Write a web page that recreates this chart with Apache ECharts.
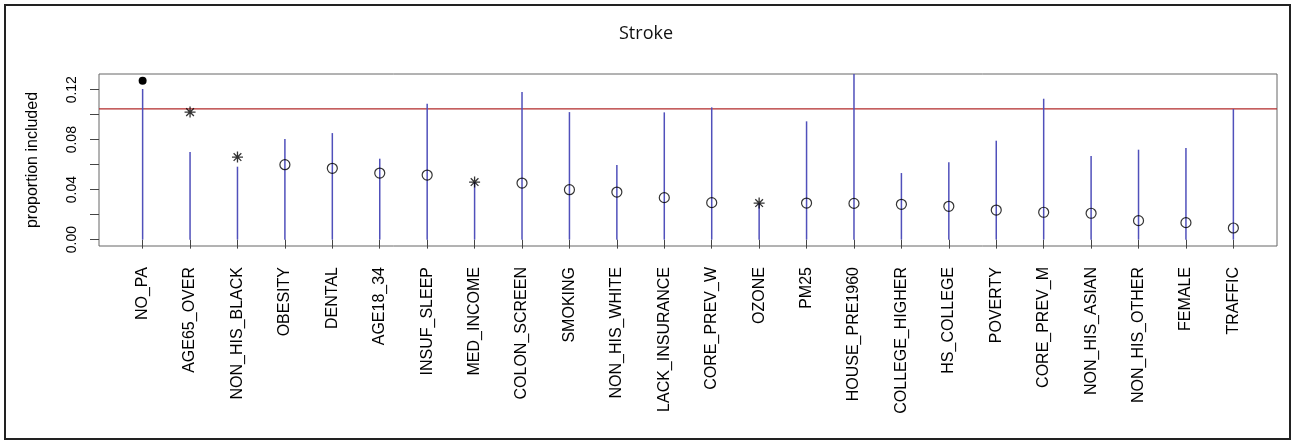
<!DOCTYPE html>
<html>
<head>
<meta charset="utf-8">
<script src="https://cdn.jsdelivr.net/npm/echarts@6/dist/echarts.min.js"></script>
<style>
html,body{margin:0;padding:0;background:#fff;}
#main{width:1292px;height:441px;}
</style>
</head>
<body>
<div id="main"></div>
<script>
var categories = ['NO_PA','AGE65_OVER','NON_HIS_BLACK','OBESITY','DENTAL','AGE18_34','INSUF_SLEEP','MED_INCOME','COLON_SCREEN','SMOKING','NON_HIS_WHITE','LACK_INSURANCE','CORE_PREV_W','OZONE','PM25','HOUSE_PRE1960','COLLEGE_HIGHER','HS_COLLEGE','POVERTY','CORE_PREV_M','NON_HIS_ASIAN','NON_HIS_OTHER','FEMALE','TRAFFIC'];
var upperValues = [0.1206,0.0702,0.0584,0.0805,0.0853,0.0648,0.1088,0.0461,0.1181,0.1021,0.0597,0.1019,0.1059,0.0293,0.0947,0.1350,0.0533,0.0619,0.0792,0.1128,0.0669,0.0720,0.0733,0.1046];
var pointValues = [0.1272,0.1021,0.0661,0.0600,0.0571,0.0533,0.0517,0.0461,0.0453,0.0400,0.0381,0.0336,0.0296,0.0293,0.0293,0.0290,0.0283,0.0267,0.0237,0.0219,0.0211,0.0152,0.0136,0.0093];
var markerTypes = ['filled','star','star','open','open','open','open','star','open','open','open','open','open','star','open','open','open','open','open','open','open','open','open','open'];
var thresholdValue = 0.1046;
var yTickValues = [0,0.02,0.04,0.06,0.08,0.10,0.12];
var yLabelValues = [0,0.04,0.08,0.12];
var title = 'Stroke';
var yTitle = 'proportion included';

var xMin = 0.08, xMax = 24.92;
var positions = categories.map(function(c,i){return i+1;});
var lineData = categories.map(function(c,i){return [i+1, upperValues[i]];});
function pts(type){
  var out=[];
  for(var i=0;i<categories.length;i++){ if(markerTypes[i]===type) out.push([i+1, pointValues[i]]); }
  return out;
}
var chart = echarts.init(document.getElementById('main'), null, {renderer:'canvas'});
var axisFont = '"Liberation Sans", Arial, sans-serif';
chart.setOption({
  animation:false,
  backgroundColor:'#fff',
  title:{text:title,left:641,top:20,textAlign:'center',
    textStyle:{fontFamily:'"Open Sans","Noto Sans",sans-serif',fontSize:18,fontWeight:'normal',color:'#111'}},
  graphic:[{type:'rect',shape:{x:5,y:5,width:1285,height:434},style:{fill:'none',stroke:'#222',lineWidth:2},silent:true}],
  grid:{left:99,right:15,top:74,bottom:195,show:true,borderColor:'#666',borderWidth:1,backgroundColor:'transparent'},
  xAxis:{type:'value',min:xMin,max:xMax,
    axisLine:{show:false},splitLine:{show:false},
    axisTick:{show:true,length:9,customValues:positions,lineStyle:{color:'#444'}},
    axisLabel:{customValues:positions,rotate:90,margin:21,fontSize:16,fontFamily:axisFont,color:'#000',
      formatter:function(v){var i=Math.round(v)-1;return categories[i]||'';}}
  },
  yAxis:{type:'value',min:-0.0051,max:0.1326,
    name:yTitle,nameLocation:'middle',nameRotate:90,nameGap:58,
    nameTextStyle:{fontSize:16,fontFamily:axisFont,color:'#000'},
    axisLine:{show:false},splitLine:{show:false},
    axisTick:{show:true,length:9,customValues:yTickValues,lineStyle:{color:'#444'}},
    axisLabel:{customValues:yLabelValues,rotate:90,margin:20,fontSize:14,fontFamily:axisFont,color:'#000',
      formatter:function(v){return v.toFixed(2);}}
  },
  series:[
    {type:'line',data:[[xMin,thresholdValue],[xMax,thresholdValue]],symbol:'none',silent:true,z:1,
      lineStyle:{color:'#b22a2a',width:1.3}},
    {type:'custom',data:lineData,z:2,
      renderItem:function(params,api){
        var x=api.value(0), top=api.value(1);
        var p0=api.coord([x,0]), p1=api.coord([x,top]);
        var cs=params.coordSys;
        var y1=Math.max(p1[1], cs.y);
        return {type:'line',shape:{x1:p0[0],y1:p0[1],x2:p0[0],y2:y1},style:{stroke:'#5050bb',lineWidth:1.5}};
      }
    },
    {type:'scatter',data:pts('open'),symbol:'circle',symbolSize:10,z:5,
      itemStyle:{color:'transparent',borderColor:'#000',borderWidth:1.2}},
    {type:'scatter',data:pts('star'),symbol:'path://M5,0L5,10M0,5L10,5M1.5,1.5L8.5,8.5M8.5,1.5L1.5,8.5',symbolSize:11,z:5,
      itemStyle:{color:'transparent',borderColor:'#000',borderWidth:1.3}},
    {type:'scatter',data:pts('filled'),symbol:'circle',symbolSize:8,z:5,
      itemStyle:{color:'#000',opacity:1}}
  ]
});
</script>
</body>
</html>
